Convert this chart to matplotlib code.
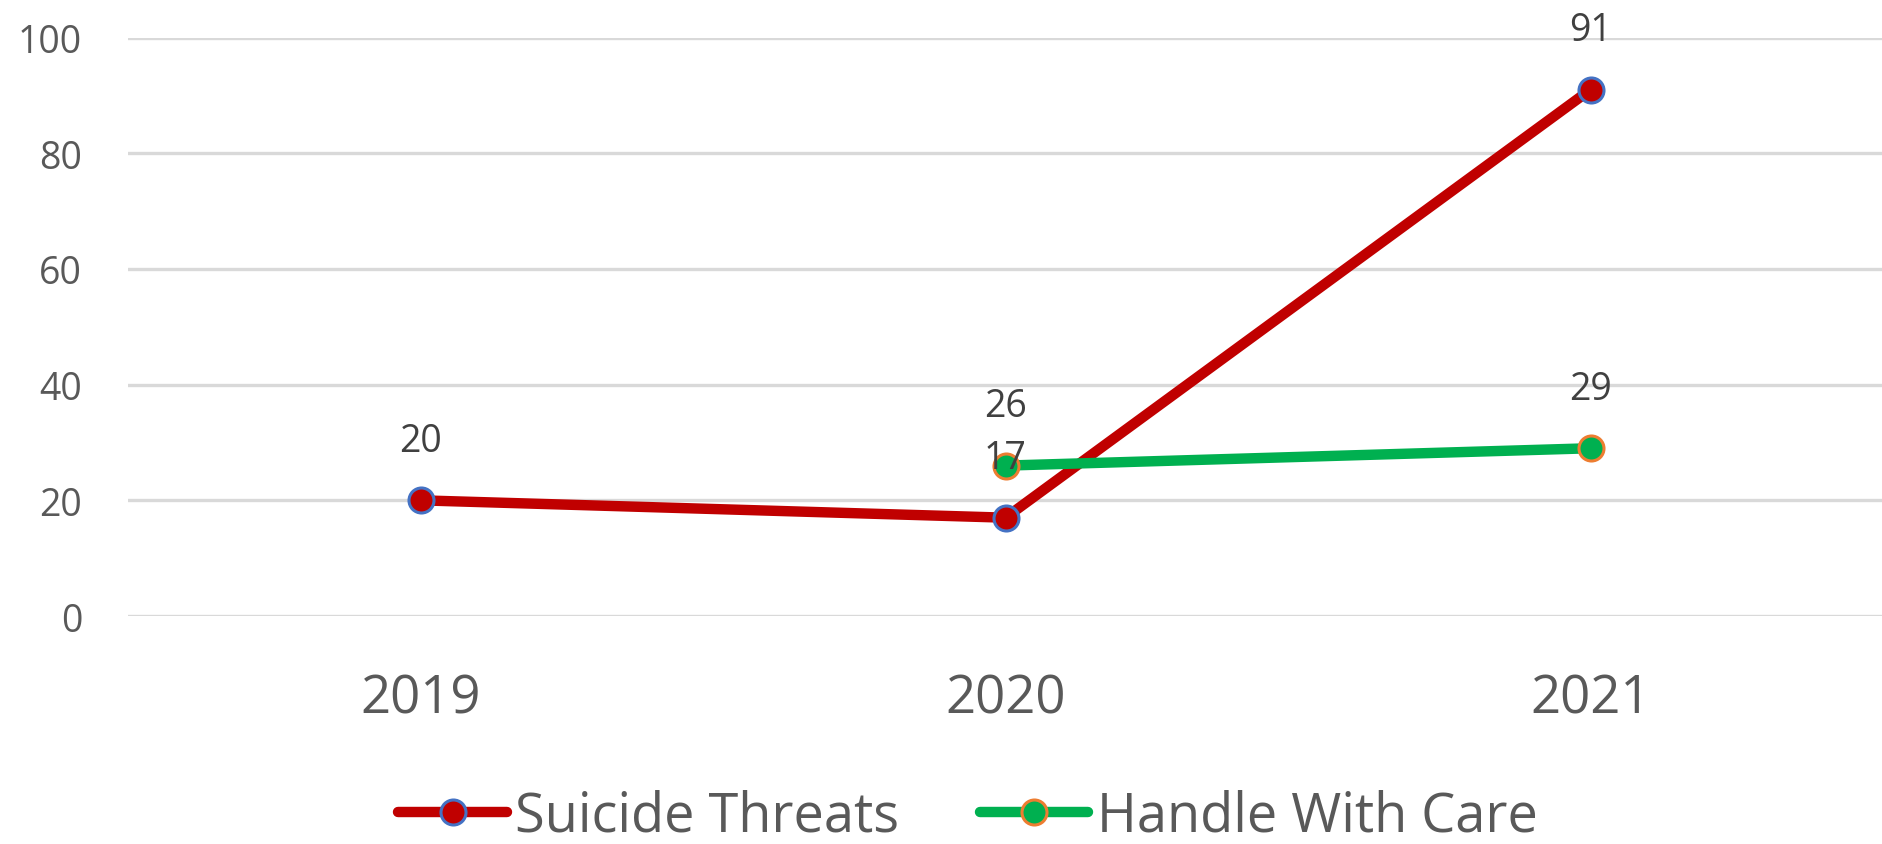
import matplotlib
matplotlib.use("Agg")
import matplotlib.pyplot as plt
import numpy as np

plt.rcParams['font.family'] = ['Open Sans', 'DejaVu Sans']

years = ["2019", "2020", "2021"]
suicide_threats = [20, 17, 91]
handle_with_care = [np.nan, 26, 29]
yticks = [0, 20, 40, 60, 80, 100]

fig = plt.figure(figsize=(18.83, 8.45), dpi=100)
ax = fig.add_axes([0.068, 0.2698, 0.932, 0.6846])

x = np.arange(len(years))
ax.plot(x, suicide_threats, color='#C00000', lw=7.5, marker='o', ms=18,
        mfc='#C00000', mec='#4472C4', mew=2.2, label='Suicide Threats',
        solid_capstyle='round', zorder=3)
ax.plot(x, handle_with_care, color='#00B050', lw=7.5, marker='o', ms=18,
        mfc='#00B050', mec='#ED7D31', mew=2.2, label='Handle With Care',
        solid_capstyle='round', zorder=4)

for xi, v in zip(x, suicide_threats):
    ax.annotate(str(v), (xi, v), xytext=(0, 43), textcoords='offset points',
                ha='center', va='center', fontsize=27, color='#404040', zorder=5)
for xi, v in zip(x, handle_with_care):
    if not np.isnan(v):
        ax.annotate(str(int(v)), (xi, v), xytext=(0, 43), textcoords='offset points',
                    ha='center', va='center', fontsize=27, color='#404040', zorder=5)

ax.set_xlim(-0.5, 2.5)
ax.set_ylim(0, 100)
ax.set_yticks(yticks)
ax.set_yticklabels([str(t) for t in yticks])
ax.set_xticks(x)
ax.set_xticklabels(years)
ax.tick_params(axis='y', length=0, pad=33, labelsize=27, labelcolor='#595959')
ax.tick_params(axis='x', length=0, pad=40, labelsize=38, labelcolor='#595959')
for s in ax.spines.values():
    s.set_visible(False)
ax.grid(axis='y', color='#D9D9D9', lw=2.4)
ax.set_axisbelow(True)

leg = fig.legend(loc='center', bbox_to_anchor=(0.514, 0.033), ncol=2, frameon=False,
                 fontsize=39, handlelength=2.0, handletextpad=0.15, columnspacing=1.5,
                 labelcolor='#595959', borderpad=0)

fig.savefig('out.png', dpi=100)
